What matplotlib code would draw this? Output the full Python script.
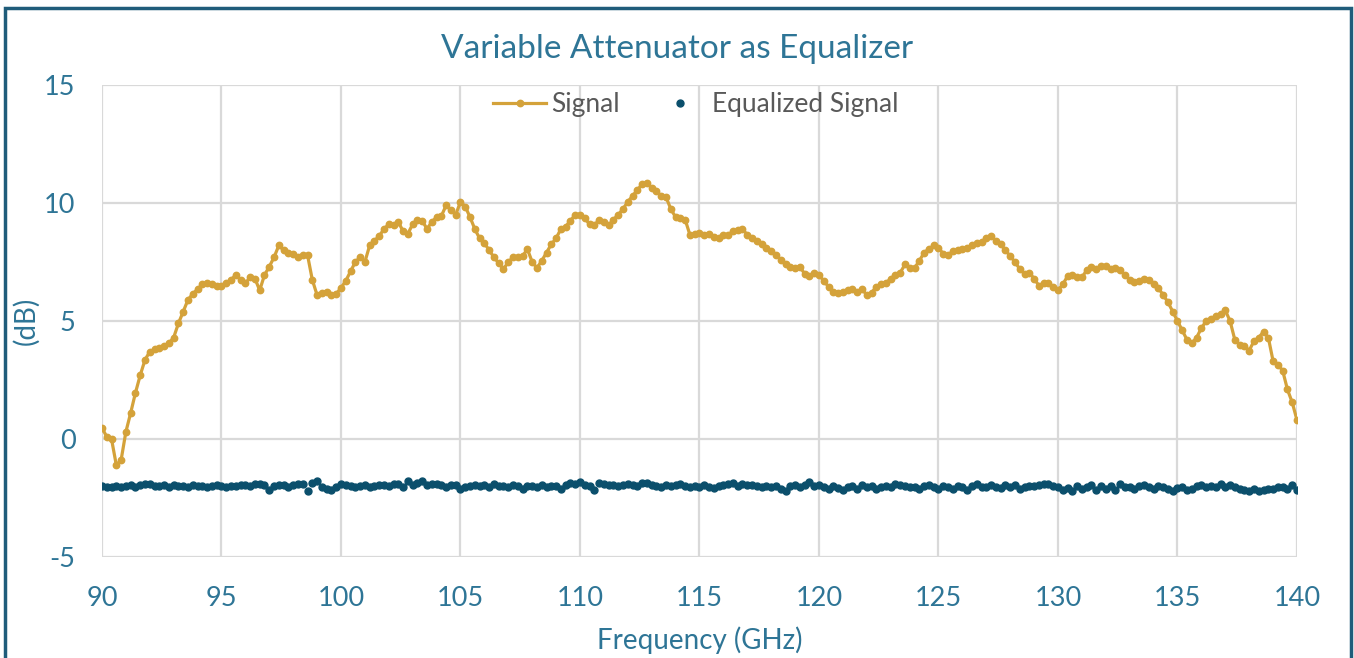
import numpy as np
import matplotlib
matplotlib.use("Agg")
import matplotlib.pyplot as plt
from matplotlib.patches import Rectangle

plt.rcParams['font.family'] = ['Lato', 'DejaVu Sans']
plt.rcParams['axes.unicode_minus'] = False

freq = np.round(np.arange(90.0, 140.001, 0.2), 1)

signal = [
    0.47, 0.1, 0.0, -1.1, -0.9, 0.3, 1.1, 1.95, 2.7, 3.35,
    3.7, 3.8, 3.85, 3.95, 4.05, 4.3, 4.9, 5.4, 5.9, 6.15,
    6.35, 6.55, 6.6, 6.55, 6.5, 6.5, 6.6, 6.75, 6.95, 6.75,
    6.6, 6.85, 6.8, 6.3, 6.95, 7.3, 7.7, 8.2, 8.0, 7.9,
    7.85, 7.7, 7.8, 7.8, 6.75, 6.1, 6.2, 6.25, 6.1, 6.15,
    6.4, 6.7, 7.1, 7.5, 7.7, 7.5, 8.2, 8.4, 8.6, 8.9,
    9.1, 9.05, 9.2, 8.8, 8.7, 9.1, 9.3, 9.25, 8.9, 9.2,
    9.4, 9.45, 9.9, 9.7, 9.5, 10.05, 9.85, 9.4, 8.9, 8.5,
    8.3, 8.0, 7.7, 7.45, 7.2, 7.5, 7.7, 7.7, 7.75, 8.05,
    7.5, 7.25, 7.55, 7.9, 8.25, 8.5, 8.9, 9.0, 9.25, 9.5,
    9.5, 9.35, 9.1, 9.05, 9.3, 9.2, 9.05, 9.3, 9.5, 9.75,
    10.05, 10.3, 10.55, 10.8, 10.85, 10.65, 10.5, 10.3, 10.25, 9.75,
    9.4, 9.35, 9.3, 8.65, 8.7, 8.75, 8.65, 8.7, 8.55, 8.5,
    8.65, 8.65, 8.8, 8.85, 8.9, 8.65, 8.5, 8.4, 8.25, 8.1,
    7.95, 7.8, 7.6, 7.4, 7.3, 7.25, 7.3, 7.0, 6.9, 7.05,
    6.95, 6.7, 6.45, 6.25, 6.2, 6.25, 6.3, 6.35, 6.25, 6.35,
    6.1, 6.2, 6.45, 6.55, 6.6, 6.8, 6.95, 7.05, 7.4, 7.25,
    7.25, 7.55, 7.9, 8.05, 8.2, 8.1, 7.85, 7.8, 7.95, 8.0,
    8.05, 8.1, 8.2, 8.3, 8.35, 8.5, 8.6, 8.4, 8.25, 8.0,
    7.75, 7.5, 7.2, 7.0, 7.05, 6.8, 6.5, 6.6, 6.6, 6.45,
    6.3, 6.55, 6.9, 6.95, 6.85, 6.85, 7.15, 7.3, 7.2, 7.35,
    7.35, 7.2, 7.25, 7.15, 6.95, 6.75, 6.65, 6.7, 6.8, 6.75,
    6.55, 6.4, 6.1, 5.8, 5.4, 5.0, 4.6, 4.2, 4.05, 4.3,
    4.7, 5.0, 5.1, 5.2, 5.3, 5.45, 5.0, 4.2, 4.0, 3.95,
    3.75, 4.15, 4.3, 4.55, 4.3, 3.3, 3.15, 2.9, 2.1, 1.55,
    0.8,
]

equalized = [
    -2.0, -2.02, -2.05, -1.98, -2.03, -2.0, -1.95, -2.05, -1.97, -1.92,
    -1.9, -1.98, -2.0, -1.95, -2.02, -1.97, -2.0, -1.99, -2.03, -1.96,
    -2.0, -1.98, -2.02, -2.01, -1.97, -2.0, -2.04, -1.98, -2.0, -1.95,
    -1.96, -2.0, -1.92, -1.9, -1.95, -2.15, -2.0, -1.97, -1.93, -2.02,
    -1.95, -1.92, -1.9, -2.2, -1.85, -1.78, -2.05, -2.1, -2.15, -2.05,
    -1.9, -1.95, -2.0, -2.02, -2.0, -1.97, -2.05, -2.0, -1.96, -1.95,
    -2.0, -1.9, -1.92, -2.02, -1.8, -1.95, -1.85, -1.78, -1.95, -1.9,
    -1.92, -1.97, -2.02, -1.93, -1.97, -2.1, -2.05, -2.0, -1.95, -2.0,
    -1.97, -2.02, -1.92, -2.0, -1.98, -2.05, -1.95, -2.0, -2.1, -1.98,
    -2.0, -2.02, -1.93, -2.03, -1.98, -2.0, -2.1, -1.95, -1.85, -1.9,
    -1.82, -1.95, -2.0, -2.15, -1.88, -1.9, -1.95, -1.97, -2.0, -1.93,
    -1.9, -1.95, -2.0, -1.88, -1.85, -1.95, -2.0, -2.05, -1.95, -2.0,
    -1.93, -1.9, -1.98, -2.02, -2.0, -2.05, -1.97, -2.03, -2.08, -1.98,
    -1.95, -1.9, -1.85, -2.0, -1.9, -1.97, -1.93, -1.98, -2.05, -2.0,
    -2.05, -2.0, -2.1, -2.2, -2.0, -1.95, -2.02, -1.95, -1.82, -2.0,
    -1.95, -2.05, -2.1, -2.0, -2.08, -2.15, -2.02, -2.0, -2.1, -1.95,
    -2.05, -2.0, -2.1, -2.02, -1.98, -2.05, -1.92, -1.95, -2.0, -2.05,
    -2.05, -2.1, -2.0, -1.95, -2.05, -2.12, -2.0, -2.05, -2.1, -1.98,
    -2.05, -2.15, -2.0, -1.9, -2.05, -2.02, -1.95, -2.05, -2.08, -1.95,
    -2.02, -1.93, -2.1, -2.05, -1.98, -2.0, -1.95, -1.9, -1.92, -2.0,
    -2.05, -2.15, -2.08, -2.2, -2.0, -2.1, -2.05, -1.95, -2.15, -2.0,
    -2.1, -2.0, -2.15, -1.92, -2.05, -2.02, -2.1, -2.0, -1.97, -2.05,
    -2.1, -2.0, -2.05, -2.12, -2.2, -2.08, -2.05, -2.15, -2.1, -2.0,
    -1.95, -2.05, -1.98, -2.02, -1.92, -2.05, -1.97, -2.05, -2.1, -2.18,
    -2.2, -2.1, -2.2, -2.15, -2.12, -2.1, -2.05, -2.02, -2.12, -1.95,
    -2.15,
]

x_ticks = [90, 95, 100, 105, 110, 115, 120, 125, 130, 135, 140]
y_ticks = [-5, 0, 5, 10, 15]

SIG_COLOR = '#D4A23A'
EQ_COLOR = '#0B4F6C'
TEXT_COLOR = '#2E7596'
GRID_COLOR = '#D9D9D9'

fig = plt.figure(figsize=(13.54, 6.58), dpi=100)
fig.patch.set_facecolor('white')
fig.patches.append(Rectangle((0.004, -0.05), 0.994, 1.038, transform=fig.transFigure,
                             fill=False, edgecolor='#1F5C7A', linewidth=2.5))

ax = fig.add_axes([0.0753, 0.1535, 0.8826, 0.7173])
ax.plot(freq, signal, color=SIG_COLOR, linewidth=2.3, marker='o', markersize=4.6,
        label='Signal', zorder=3)
ax.plot(freq, equalized, linestyle='none', color=EQ_COLOR, marker='o', markersize=5.0,
        label='Equalized Signal', zorder=3)

ax.set_xlim(90, 140)
ax.set_ylim(-5, 15)
ax.set_xticks(x_ticks)
ax.set_yticks(y_ticks)
ax.grid(True, color=GRID_COLOR, linewidth=1.6)
ax.set_axisbelow(True)
for s in ax.spines.values():
    s.set_visible(False)
ax.tick_params(length=0, labelsize=19.5, colors=TEXT_COLOR)
ax.tick_params(axis='x', pad=21)
ax.tick_params(axis='y', pad=19)

ax.set_xlabel('Frequency (GHz)', fontsize=20, color=TEXT_COLOR, labelpad=11)
ax.set_ylabel('(dB)', fontsize=20, color=TEXT_COLOR)
ax.yaxis.set_label_coords(-0.052, 0.5)
fig.text(0.5, 0.925, 'Variable Attenuator as Equalizer', ha='center', va='center',
         fontsize=24, color=TEXT_COLOR)

leg = ax.legend(loc='upper center', bbox_to_anchor=(0.497, 1.035), ncol=2, frameon=False,
                fontsize=19, handlelength=2.0, columnspacing=1.3, handletextpad=0.2,
                labelcolor='#595959')

fig.savefig('out.png', dpi=100, facecolor='white')
